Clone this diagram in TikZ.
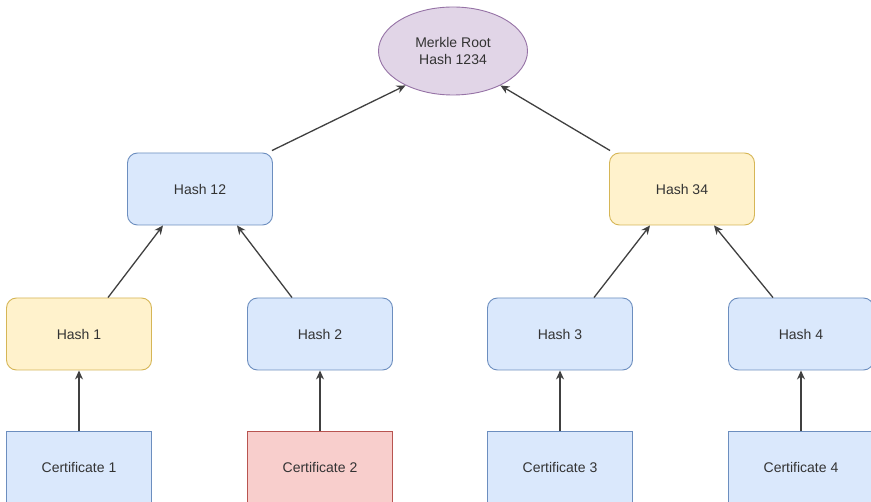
\documentclass[tikz,border=0pt]{standalone}
\usepackage{fontspec}
\setmainfont{Liberation Sans}
\usetikzlibrary{arrows.meta,shapes.geometric}
\definecolor{bluefill}{HTML}{DAE8FC}
\definecolor{bluedraw}{HTML}{6C8EBF}
\definecolor{yellowfill}{HTML}{FFF2CC}
\definecolor{yellowdraw}{HTML}{D6B656}
\definecolor{redfill}{HTML}{F8CECC}
\definecolor{reddraw}{HTML}{B85450}
\definecolor{purplefill}{HTML}{E1D5E7}
\definecolor{purpledraw}{HTML}{9673A6}
\definecolor{txt}{HTML}{333333}
\tikzset{
  box/.style={rectangle, rounded corners=10pt, minimum width=145pt, minimum height=72pt,
    inner sep=0pt, line width=0.9pt, text=txt, font=\fontsize{14}{16}\selectfont},
  bluebox/.style={box, fill=bluefill, draw=bluedraw},
  yellowbox/.style={box, fill=yellowfill, draw=yellowdraw},
  cert/.style={rectangle, minimum width=145pt, minimum height=72pt, inner sep=0pt,
    line width=0.9pt, text=txt, font=\fontsize{14}{16}\selectfont},
  bluecert/.style={cert, fill=bluefill, draw=bluedraw},
  redcert/.style={cert, fill=redfill, draw=reddraw},
  arr/.style={-{Stealth[length=9pt,width=8pt]}, line width=1.3pt, draw=black!75},
}
\begin{document}
\begin{tikzpicture}[x=1pt,y=-1pt]
\useasboundingbox (0,0) rectangle (871,502);
\clip (0,0) rectangle (871,502);
\fill[white] (0,0) rectangle (871,502);

% root of the tree
\node[ellipse, minimum width=149pt, minimum height=88pt, inner sep=0pt,
  fill=purplefill, draw=purpledraw, line width=0.9pt, text=txt,
  font=\fontsize{14}{17}\selectfont, align=center] (root) at (453,51) {Merkle Root\\Hash 1234};

% second level
\node[bluebox]   (h12) at (200,189) {Hash 12};
\node[yellowbox] (h34) at (682,189) {Hash 34};

% leaf hashes
\node[yellowbox] (h1) at (79,334)  {Hash 1};
\node[bluebox]   (h2) at (320,334) {Hash 2};
\node[bluebox]   (h3) at (560,334) {Hash 3};
\node[bluebox]   (h4) at (801,334) {Hash 4};

% certificates
\node[bluecert] (c1) at (79,467)  {Certificate 1};
\node[redcert]  (c2) at (320,467) {Certificate 2};
\node[bluecert] (c3) at (560,467) {Certificate 3};
\node[bluecert] (c4) at (801,467) {Certificate 4};

% certificates to leaf hashes
\draw[arr] (c1.north) -- (h1.south);
\draw[arr] (c2.north) -- (h2.south);
\draw[arr] (c3.north) -- (h3.south);
\draw[arr] (c4.north) -- (h4.south);

% leaf hashes to second level
\draw[arr] ([xshift=29pt]h1.north) -- ([xshift=-37pt]h12.south);
\draw[arr] ([xshift=-28pt]h2.north) -- ([xshift=37pt]h12.south);
\draw[arr] ([xshift=34pt]h3.north) -- ([xshift=-32pt]h34.south);
\draw[arr] ([xshift=-28pt]h4.north) -- ([xshift=32pt]h34.south);

% second level to root
\draw[arr] ([shift={(-1pt,2pt)}]h12.north east) -- (root.216);
\draw[arr] ([shift={(1pt,2pt)}]h34.north west) -- (root.324);
\end{tikzpicture}
\end{document}
